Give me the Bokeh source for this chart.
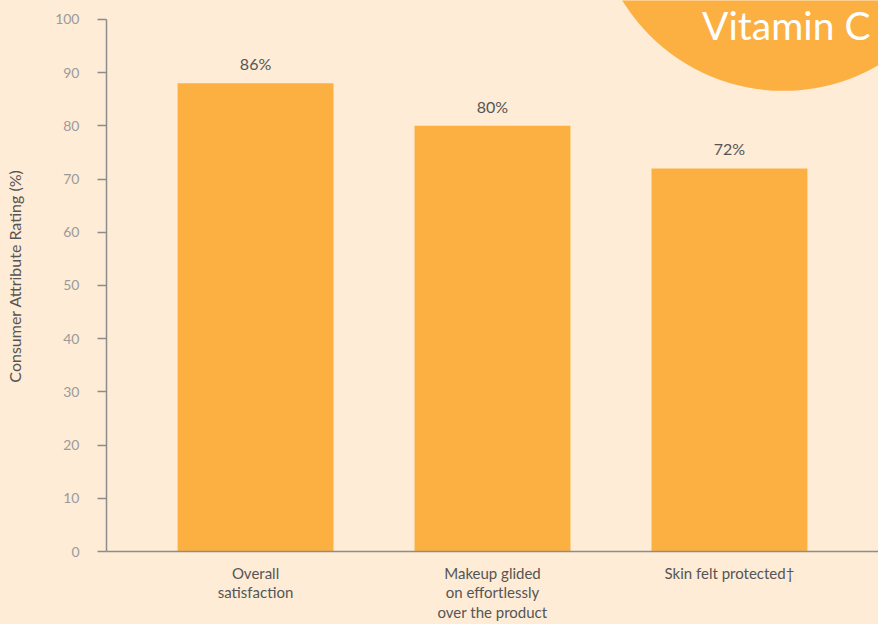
from bokeh.plotting import figure
from bokeh.models import Range1d, FixedTicker, ColumnDataSource, GlobalInlineStyleSheet
from bokeh.core.properties import value
from bokeh.embed import file_html
from bokeh.resources import INLINE

# ---- data ----
categories = ["Overall\nsatisfaction", "Makeup glided\non effortlessly\nover the product", "Skin felt protected\u2020"]
bar_values = [88, 80, 72]
bar_labels = ["86%", "80%", "72%"]
y_ticks = [0, 10, 20, 30, 40, 50, 60, 70, 80, 90, 100]
badge_text = "Vitamin C"

BG = "#FEECD6"
ORANGE = "#FCB042"
AXIS = "#8C8C8C"
FONT = "Lato"

xs = list(range(len(categories)))
src = ColumnDataSource(dict(x=xs, top=bar_values, label=bar_labels))

p = figure(width=878, height=624, output_backend="svg", toolbar_location=None,
           x_range=Range1d(-0.629, 2.629), y_range=Range1d(0, 103.56),
           min_border_left=106, min_border_right=0, min_border_top=0, min_border_bottom=72)
p.stylesheets = [GlobalInlineStyleSheet(css=f"body{{background:{BG};}}")]

p.background_fill_color = BG
p.border_fill_color = BG
p.outline_line_color = None
p.xgrid.visible = False
p.ygrid.visible = False

# decorative badge (top-right)
p.scatter(x=[2.228], y=[122.1], size=378, marker="circle", fill_color=ORANGE, line_color=None)
p.text(x=[2.595], y=[103.3], text=[badge_text], text_align="right", text_baseline="top",
       text_color="white", text_font=value(FONT), text_font_size="39px", text_font_style="normal")

p.vbar(x="x", top="top", width=0.658, bottom=0, source=src, fill_color=ORANGE, line_color=None)
p.text(x="x", y="top", text="label", source=src, text_align="center", text_baseline="bottom",
       y_offset=-10, text_color="#555555", text_font=value(FONT), text_font_size="16px",
       text_font_style="normal")

# y axis
ya = p.yaxis[0]
ya.ticker = FixedTicker(ticks=y_ticks)
ya.bounds = (0, 100)
ya.axis_line_color = AXIS
ya.axis_line_width = 1.5
ya.major_tick_line_color = AXIS
ya.major_tick_line_width = 1.5
ya.major_tick_in = 0
ya.major_tick_out = 9
ya.minor_tick_line_color = None
ya.major_label_text_color = "#9A9A9A"
ya.major_label_text_font = FONT
ya.major_label_text_font_size = "14px"
ya.major_label_standoff = 18
ya.axis_label = "Consumer Attribute Rating (%)"
ya.axis_label_text_font = FONT
ya.axis_label_text_font_size = "16px"
ya.axis_label_text_font_style = "normal"
ya.axis_label_text_color = "#555555"
ya.axis_label_standoff = 28

# x axis
xa = p.xaxis[0]
xa.ticker = FixedTicker(ticks=xs)
xa.major_label_overrides = {i: c for i, c in zip(xs, categories)}
xa.axis_line_color = AXIS
xa.axis_line_width = 1.5
xa.major_tick_line_color = None
xa.minor_tick_line_color = None
xa.major_tick_in = 0
xa.major_tick_out = 0
xa.major_label_standoff = 12
xa.major_label_text_color = "#555555"
xa.major_label_text_font = FONT
xa.major_label_text_font_size = "15px"
xa.major_label_text_line_height = 1.1

open("out.html", "w").write(file_html(p, INLINE))
